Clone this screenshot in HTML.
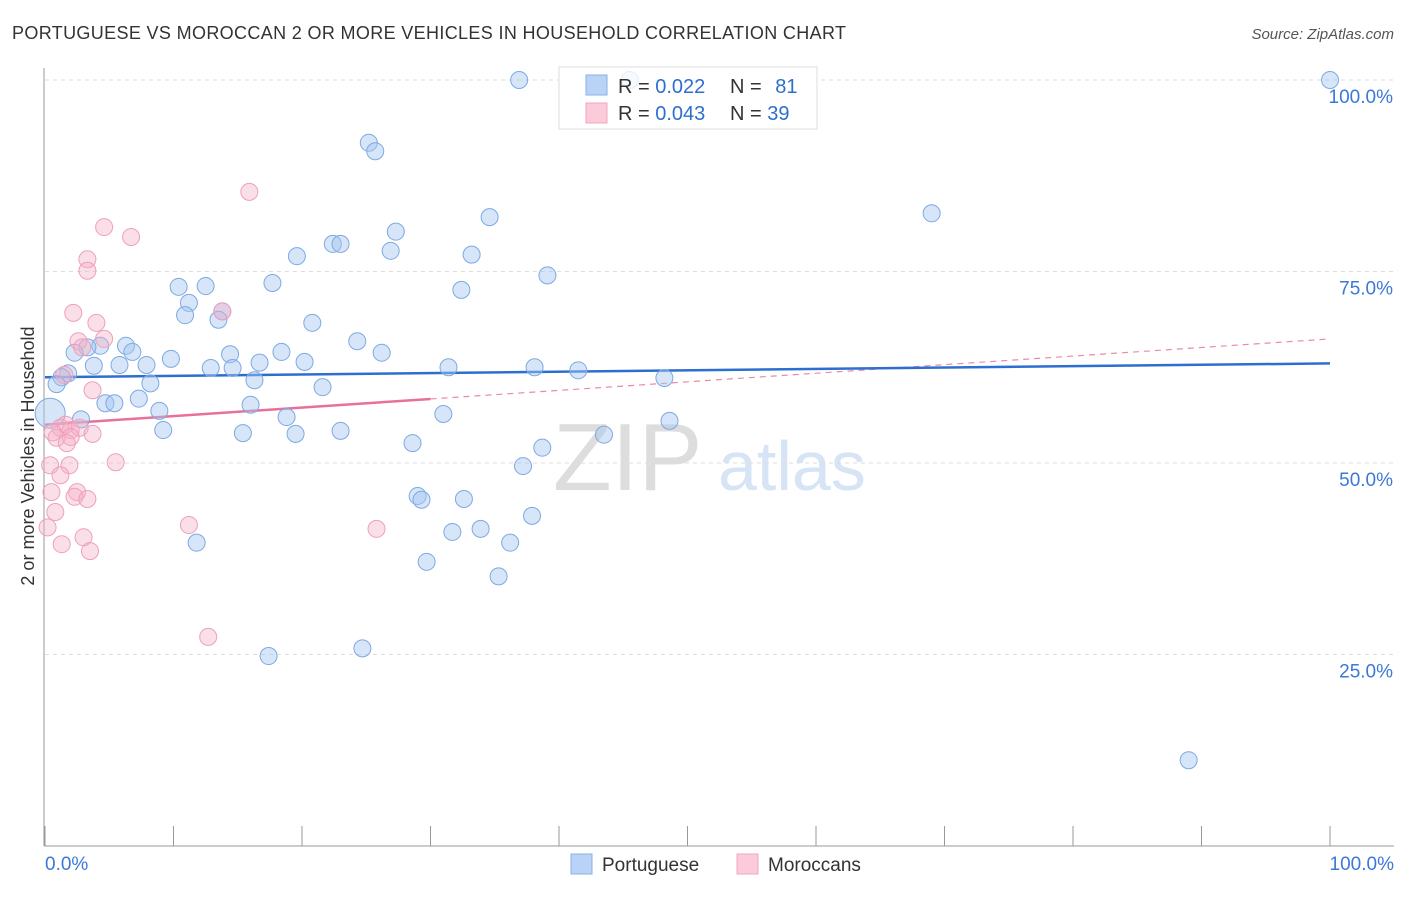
<!DOCTYPE html>
<html><head><meta charset="utf-8"><style>
body{margin:0;background:#fff;font-family:"Liberation Sans",sans-serif;}
svg text{font-family:"Liberation Sans",sans-serif;}
</style></head><body>
<svg id="chart" width="1406" height="892" viewBox="0 0 1406 892">
<text x="12" y="39" font-size="18" fill="#333" textLength="834">PORTUGUESE VS MOROCCAN 2 OR MORE VEHICLES IN HOUSEHOLD CORRELATION CHART</text>
<text x="1394" y="39" font-size="15" fill="#555" text-anchor="end" font-style="italic">Source: ZipAtlas.com</text>
<g><text x="553" y="490" font-size="96" fill="#ddd" font-family="Liberation Serif">ZIP</text><text x="718" y="490" font-size="70" fill="#d6e4f5">atlas</text></g>
<g id="grid"></g>
<g id="axes"></g>
<g id="trends"></g>
<g id="pts"></g>
<g>
<rect x="559" y="67" width="258" height="62" fill="rgba(255,255,255,0.8)" stroke="#ddd"/>
<rect x="586" y="75" width="21" height="20" fill="#b8d3f5" stroke="#8ab2e8"/>
<rect x="586" y="103" width="21" height="20" fill="#fbcbd9" stroke="#f2a6bf"/>
<text x="618" y="93" font-size="20" fill="#333">R = <tspan fill="#2d6fd1">0.022</tspan></text>
<text x="730" y="93" font-size="20" fill="#333">N = <tspan fill="#2d6fd1" dx="8">81</tspan></text>
<text x="618" y="120" font-size="20" fill="#333">R = <tspan fill="#2d6fd1">0.043</tspan></text>
<text x="730" y="120" font-size="20" fill="#333">N = <tspan fill="#2d6fd1">39</tspan></text>
</g>
<g>
<rect x="571" y="854" width="21" height="20" fill="#b8d3f5" stroke="#8ab2e8"/>
<text x="602" y="871" font-size="19" fill="#333">Portuguese</text>
<rect x="737" y="854" width="21" height="20" fill="#fbcbd9" stroke="#f2a6bf"/>
<text x="768" y="871" font-size="19" fill="#333">Moroccans</text>
</g>
<text transform="translate(34,456) rotate(-90)" font-size="18" fill="#333" text-anchor="middle">2 or more Vehicles in Household</text>
</svg>
<script>
const blueX=[36.9,45.5,100,25.2,25.7,69.0,34.6,27.3,22.4,23.0,26.9,19.6,33.2,39.1,17.7,10.4,12.5,32.4,11.2,13.8,10.9,13.5,20.8,24.3,6.3,4.3,3.3,2.3,6.8,14.4,18.4,26.2,9.8,5.8,7.9,3.8,16.7,20.2,12.9,14.6,31.4,38.1,41.5,48.2,1.8,1.3,16.3,8.2,21.6,0.9,7.3,4.7,5.4,16.0,8.9,31.0,18.8,2.8,48.6,9.2,23.0,15.4,19.5,43.5,28.6,38.7,37.2,29.0,29.3,32.6,37.9,31.7,33.9,36.2,11.8,29.7,35.3,24.7,17.4,89.0];
const blueY=[100,100,100,91.8,90.7,82.6,82.1,80.2,78.6,78.6,77.7,77.0,77.2,74.5,73.5,73.0,73.1,72.6,70.9,69.8,69.3,68.7,68.3,65.9,65.3,65.3,65.1,64.4,64.5,64.2,64.5,64.4,63.6,62.8,62.8,62.7,63.1,63.2,62.4,62.4,62.5,62.5,62.1,61.1,61.7,61.2,60.8,60.4,59.9,60.3,58.4,57.8,57.8,57.6,56.8,56.4,56.0,55.7,55.5,54.3,54.2,53.9,53.8,53.7,52.6,52.0,49.6,45.7,45.2,45.3,43.1,41.0,41.4,39.6,39.6,37.1,35.2,25.8,24.8,11.2];
const pinkX=[15.9,4.6,6.7,3.3,3.3,2.2,4.0,13.8,2.6,4.6,2.9,1.5,3.7,1.6,1.2,0.6,2.0,2.7,3.7,0.9,2.0,1.7,5.5,0.4,1.9,1.2,2.5,0.5,2.3,3.3,0.8,11.2,25.8,0.2,3.0,1.3,3.5,12.7];
const pinkY=[85.4,80.8,79.5,76.6,75.1,69.6,68.3,69.8,65.9,66.2,65.1,61.5,59.5,55.0,54.6,54.0,54.3,54.6,53.8,53.3,53.4,52.6,50.1,49.7,49.7,48.4,46.2,46.2,45.6,45.3,43.6,41.9,41.4,41.6,40.3,39.4,38.5,27.3];
const yTicks=[25,50,75,100];
const xTickLabels=["0.0%","100.0%"];
const blueTrend=[61.2,63.0];
const pinkTrend=[55.0,66.2];
const pinkSolidEnd=30;
const sx=v=>45+v*12.85, sy=v=>846-v*7.66;
const NS="http://www.w3.org/2000/svg";
function mk(p,t,a){const e=document.createElementNS(NS,t);for(const k in a)e.setAttribute(k,a[k]);p.appendChild(e);return e;}
const g=document.getElementById('grid'),ax=document.getElementById('axes'),tr=document.getElementById('trends'),pts=document.getElementById('pts');
yTicks.forEach(t=>{
 const l=mk(g,'line',{x1:45,x2:1394,y1:sy(t),y2:sy(t),stroke:'#ddd','stroke-dasharray':'4,4'});
 
 
 const tx=mk(ax,'text',{x:1393,y:sy(t)+23,'font-size':19,fill:'#3b78d8','text-anchor':'end'});tx.textContent=t.toFixed(1)+'%';
 
 
});
mk(ax,'line',{x1:44,x2:44,y1:68,y2:846,stroke:'#999'});
mk(ax,'line',{x1:44,x2:1394,y1:846,y2:846,stroke:'#999'});
for(let i=0;i<=10;i++){mk(ax,'line',{x1:sx(i*10),x2:sx(i*10),y1:826,y2:846,stroke:'#999'});}
const xl0=mk(ax,'text',{x:45,y:870,'font-size':19,fill:'#3b78d8'});xl0.textContent=xTickLabels[0];


const xl1=mk(ax,'text',{x:1394,y:870,'font-size':19,fill:'#3b78d8','text-anchor':'end'});xl1.textContent=xTickLabels[1];


blueX.forEach((x,i)=>{const c=mk(pts,'circle',{cx:sx(x),cy:sy(blueY[i]),r:8.5,fill:'rgba(165,198,240,0.45)',stroke:'#7ea9e2','stroke-width':1});
 
 });
const big=mk(pts,'circle',{cx:sx(0.4),cy:sy(56.5),r:15,fill:'rgba(165,198,240,0.45)',stroke:'#7ea9e2'});


pinkX.forEach((x,i)=>{const c=mk(pts,'circle',{cx:sx(x),cy:sy(pinkY[i]),r:8.5,fill:'rgba(246,175,198,0.4)',stroke:'#eea0ba','stroke-width':1});
 
 });
const pAt=x=>pinkTrend[0]+(pinkTrend[1]-pinkTrend[0])*x/100;
const pd=mk(tr,'line',{x1:sx(pinkSolidEnd),y1:sy(pAt(pinkSolidEnd)),x2:sx(100),y2:sy(pinkTrend[1]),stroke:'#e98aa8','stroke-width':1.2,'stroke-dasharray':'6,5'});


const ps=mk(tr,'line',{x1:sx(0),y1:sy(pinkTrend[0]),x2:sx(pinkSolidEnd),y2:sy(pAt(pinkSolidEnd)),stroke:'#e8709a','stroke-width':2.5});


const bl=mk(tr,'line',{x1:sx(0),y1:sy(blueTrend[0]),x2:sx(100),y2:sy(blueTrend[1]),stroke:'#2d6fd1','stroke-width':2.5});


</script>
</body></html>
